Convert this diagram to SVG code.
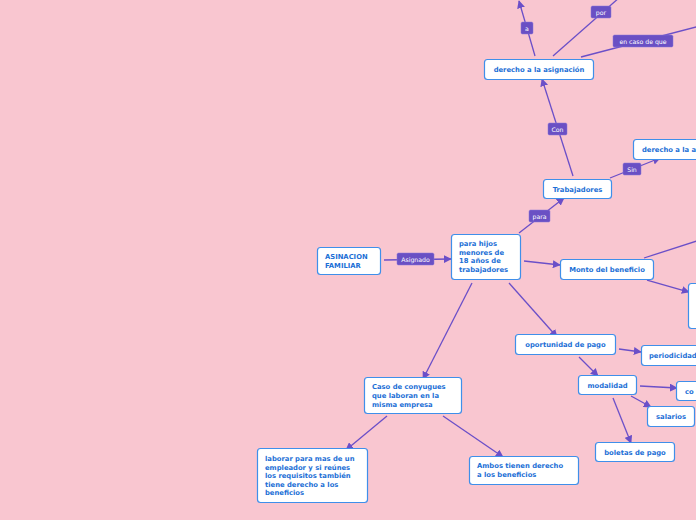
<svg xmlns="http://www.w3.org/2000/svg" width="696" height="520" viewBox="0 0 696 520">
<defs>
<marker id="ah" viewBox="0 0 10 10" refX="9" refY="5" markerWidth="8" markerHeight="8" markerUnits="userSpaceOnUse" orient="auto">
<path d="M0,0 L10,5 L0,10 Z" fill="#6B4FC8"/>
</marker>
<style>
.n rect{fill:#ffffff;stroke:#3F8FEA;stroke-width:1.2}
.n text{font-family:"DejaVu Sans",Verdana,sans-serif;font-weight:bold;font-size:6.8px;fill:#1C6FD6}
.c line{stroke:#6B4FC8;stroke-width:1.3;fill:none}
.c .a{marker-end:url(#ah)}
.l rect{fill:#6A50C4;stroke:#8A74D8;stroke-width:0.5}
.l text{font-family:"DejaVu Sans",Verdana,sans-serif;font-size:6.2px;fill:#ffffff;text-anchor:middle}
.m{text-anchor:middle}
</style>
</defs>
<rect width="696" height="520" fill="#F9C6D0"/>
<g id="connectors" class="c">
<line class="a" x1="384" y1="260" x2="451" y2="259"/>
<line class="a" x1="519" y1="233" x2="564" y2="198"/>
<line class="a" x1="573" y1="176" x2="542" y2="79"/>
<line class="a" x1="610" y1="178" x2="660" y2="158"/>
<line class="a" x1="535" y1="56" x2="519" y2="1"/>
<line x1="553" y1="56" x2="620" y2="-3"/>
<line x1="581" y1="57" x2="700" y2="26"/>
<line class="a" x1="524" y1="261" x2="560" y2="265"/>
<line x1="644" y1="258" x2="700" y2="240"/>
<line class="a" x1="647" y1="280" x2="689" y2="292"/>
<line class="a" x1="509" y1="283" x2="557" y2="337"/>
<line class="a" x1="472" y1="283" x2="423" y2="379"/>
<line class="a" x1="619" y1="349" x2="641" y2="352"/>
<line class="a" x1="579" y1="357" x2="598" y2="376"/>
<line class="a" x1="640" y1="386" x2="677" y2="388"/>
<line class="a" x1="631" y1="396" x2="651" y2="407"/>
<line class="a" x1="613" y1="398" x2="631" y2="443"/>
<line class="a" x1="387" y1="416" x2="346" y2="450"/>
<line class="a" x1="443" y1="416" x2="503" y2="457"/>
</g>
<g id="labels" class="l">
<g id="lbl-asignado"><rect x="397" y="253" width="37" height="12" rx="1.5"/><text x="415.5" y="261.5">Asignado</text></g>
<g id="lbl-para"><rect x="529" y="210" width="21" height="12" rx="1.5"/><text x="539.5" y="218.5">para</text></g>
<g id="lbl-con"><rect x="548" y="123" width="19" height="12" rx="1.5"/><text x="557.5" y="131.5">Con</text></g>
<g id="lbl-sin"><rect x="623" y="163" width="18" height="12" rx="1.5"/><text x="632" y="171.5">Sin</text></g>
<g id="lbl-a"><rect x="521" y="22" width="12" height="12" rx="1.5"/><text x="527" y="30.5">a</text></g>
<g id="lbl-por"><rect x="591" y="6" width="20" height="12" rx="1.5"/><text x="601" y="14.5">por</text></g>
<g id="lbl-encaso"><rect x="613" y="35" width="60" height="12" rx="1.5"/><text x="643" y="43.5">en caso de que</text></g>
</g>
<g id="n-derecho" class="n"><rect x="484.5" y="59.5" width="109" height="20" rx="3"/><text class="m" x="539" y="72">derecho a la asignación</text></g>
<g id="n-trabajadores" class="n"><rect x="543.5" y="179.5" width="68" height="19" rx="3"/><text class="m" x="577.5" y="191.5">Trabajadores</text></g>
<g id="n-derecho2" class="n"><rect x="633.5" y="139.5" width="120" height="20" rx="3"/><text x="642" y="152">derecho a la a</text></g>
<g id="n-asinacion" class="n"><rect x="317.5" y="247.5" width="63" height="27" rx="3"/><text x="325" y="259">ASINACION</text><text x="325" y="268">FAMILIAR</text></g>
<g id="n-parahijos" class="n"><rect x="451.5" y="234.5" width="69" height="45" rx="3"/><text x="459" y="246">para hijos</text><text x="459" y="254.7">menores de</text><text x="459" y="263.4">18 años  de</text><text x="459" y="272.1">trabajadores</text></g>
<g id="n-monto" class="n"><rect x="560.5" y="259.5" width="93" height="20" rx="3"/><text class="m" x="607" y="272">Monto del beneficio</text></g>
<g id="n-right" class="n"><rect x="688.5" y="283.5" width="40" height="45" rx="3"/></g>
<g id="n-oportunidad" class="n"><rect x="515.5" y="334.5" width="100" height="20" rx="3"/><text class="m" x="565.5" y="347">oportunidad de  pago</text></g>
<g id="n-periodicidad" class="n"><rect x="641.5" y="345.5" width="70" height="20" rx="3"/><text x="649" y="358">periodicidad</text></g>
<g id="n-modalidad" class="n"><rect x="578.5" y="375.5" width="58" height="19" rx="3"/><text class="m" x="607.5" y="387.5">modalidad</text></g>
<g id="n-co" class="n"><rect x="676.5" y="381.5" width="40" height="19" rx="3"/><text x="685" y="393.5">co</text></g>
<g id="n-salarios" class="n"><rect x="647.5" y="406.5" width="47" height="20" rx="3"/><text class="m" x="671" y="419">salarios</text></g>
<g id="n-boletas" class="n"><rect x="595.5" y="442.5" width="79" height="19" rx="3"/><text class="m" x="635" y="454.5">boletas de pago</text></g>
<g id="n-caso" class="n"><rect x="364.5" y="377.5" width="97" height="36" rx="3"/><text x="372" y="389">Caso de conyugues</text><text x="372" y="397.8">que laboran en la</text><text x="372" y="406.6">misma empresa</text></g>
<g id="n-laborar" class="n"><rect x="257.5" y="448.5" width="110" height="54" rx="3"/><text x="265" y="461">laborar para mas de un</text><text x="265" y="469.5">empleador y si reúnes</text><text x="265" y="478">los requisitos también</text><text x="265" y="486.5">tiene derecho a los</text><text x="265" y="495">beneficios</text></g>
<g id="n-ambos" class="n"><rect x="469.5" y="456.5" width="109" height="28" rx="3"/><text x="477" y="468">Ambos tienen derecho</text><text x="477" y="477">a los beneficios</text></g>
</svg>
